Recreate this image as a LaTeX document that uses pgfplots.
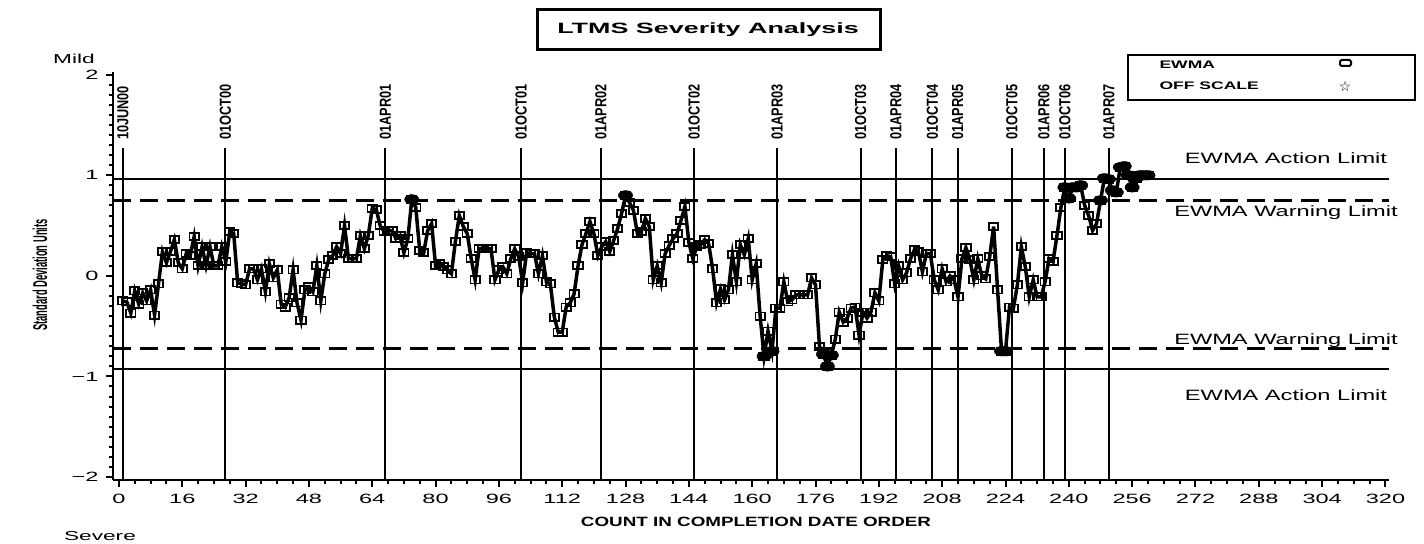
\documentclass[border=0pt]{standalone}
\usepackage{fontspec}
\usepackage{pgfplots}
\usepackage{pgfplotstable}
\pgfplotsset{compat=1.18}
\setmainfont{Liberation Sans}
\newfontfamily\sasfont[FakeStretch=1.75]{Liberation Sans}
\newfontfamily\limfont[FakeStretch=1.58]{Liberation Sans}
\newfontfamily\titfont[FakeStretch=1.8]{Liberation Sans}
\newfontfamily\xlabfont[FakeStretch=1.4]{Liberation Sans}
\newfontfamily\ylabfont[FakeStretch=0.47]{Liberation Sans}
\newfontfamily\datefont[FakeStretch=0.8]{Liberation Sans}
\newfontfamily\legfont[FakeStretch=1.6]{Liberation Sans}
\newfontfamily\symfont{DejaVu Sans}

\pgfplotstableread[row sep=\\]{
u v\\
1 -0.25\\ 2 -0.26\\ 3 -0.37\\ 4 -0.15\\ 5 -0.28\\ 6 -0.17\\ 7 -0.25\\ 8 -0.14\\ 9 -0.39\\ 10 -0.08\\
11 0.24\\ 12 0.13\\ 13 0.24\\ 14 0.36\\ 15 0.13\\ 16 0.07\\ 17 0.22\\ 18 0.20\\ 19 0.39\\ 20 0.10\\
21 0.29\\ 22 0.10\\ 23 0.29\\ 24 0.10\\ 25 0.10\\ 26 0.29\\ 27 0.14\\ 28 0.44\\ 29 0.42\\ 30 -0.07\\
31 -0.08\\ 32 -0.09\\ 33 0.07\\ 34 0.07\\ 35 -0.04\\ 36 0.07\\ 37 -0.16\\ 38 0.12\\ 39 -0.02\\ 40 0.06\\
41 -0.28\\ 42 -0.31\\ 43 -0.22\\ 44 0.06\\ 45 -0.27\\ 46 -0.44\\ 47 -0.14\\ 48 -0.11\\ 49 -0.16\\ 50 0.10\\
51 -0.25\\ 52 0.02\\ 53 0.16\\ 54 0.20\\ 55 0.29\\ 56 0.22\\ 57 0.50\\ 58 0.17\\ 59 0.17\\ 60 0.17\\
61 0.40\\ 62 0.27\\ 63 0.40\\ 64 0.67\\ 65 0.66\\ 66 0.50\\ 67 0.44\\ 68 0.45\\ 69 0.45\\ 70 0.37\\
71 0.40\\ 72 0.23\\ 73 0.37\\ 74 0.76\\ 75 0.68\\ 76 0.25\\ 77 0.23\\ 78 0.45\\ 79 0.52\\ 80 0.10\\
81 0.12\\ 82 0.09\\ 83 0.06\\ 84 0.02\\ 85 0.34\\ 86 0.60\\ 87 0.49\\ 88 0.42\\ 89 0.17\\ 90 -0.04\\
91 0.27\\ 92 0.27\\ 93 0.27\\ 94 0.27\\ 95 -0.04\\ 96 0.06\\ 97 0.09\\ 98 0.02\\ 99 0.17\\ 100 0.27\\
101 0.19\\ 102 -0.07\\ 103 0.23\\ 104 0.22\\ 105 0.22\\ 106 0.02\\ 107 0.20\\ 108 -0.06\\ 109 -0.08\\ 110 -0.41\\
111 -0.56\\ 112 -0.56\\ 113 -0.31\\ 114 -0.27\\ 115 -0.18\\ 116 0.10\\ 117 0.31\\ 118 0.42\\ 119 0.54\\ 120 0.42\\
121 0.20\\ 122 0.29\\ 123 0.34\\ 124 0.24\\ 125 0.35\\ 126 0.47\\ 127 0.62\\ 128 0.80\\ 129 0.73\\ 130 0.65\\
131 0.42\\ 132 0.44\\ 133 0.57\\ 134 0.49\\ 135 -0.04\\ 136 0.10\\ 137 -0.07\\ 138 0.22\\ 139 0.30\\ 140 0.37\\
141 0.42\\ 142 0.55\\ 143 0.69\\ 144 0.33\\ 145 0.17\\ 146 0.29\\ 147 0.31\\ 148 0.36\\ 149 0.32\\ 150 0.07\\
151 -0.27\\ 152 -0.13\\ 153 -0.24\\ 154 -0.14\\ 155 0.21\\ 156 -0.06\\ 157 0.31\\ 158 0.21\\ 159 0.37\\ 160 -0.04\\
161 0.12\\ 162 -0.40\\ 163 -0.80\\ 164 -0.55\\ 165 -0.75\\ 166 -0.32\\ 167 -0.32\\ 168 -0.06\\ 169 -0.26\\ 170 -0.24\\
171 -0.19\\ 172 -0.19\\ 173 -0.19\\ 174 -0.19\\ 175 -0.02\\ 176 -0.09\\ 177 -0.70\\ 178 -0.78\\ 179 -0.90\\ 180 -0.79\\
181 -0.63\\ 182 -0.36\\ 183 -0.46\\ 184 -0.42\\ 185 -0.32\\ 186 -0.31\\ 187 -0.59\\ 188 -0.36\\ 189 -0.42\\ 190 -0.36\\
191 -0.17\\ 192 -0.25\\ 193 0.16\\ 194 0.20\\ 195 0.19\\ 196 -0.08\\ 197 0.10\\ 198 -0.04\\ 199 0.03\\ 200 0.17\\
201 0.26\\ 202 0.24\\ 203 0.04\\ 204 0.22\\ 205 0.22\\ 206 -0.04\\ 207 -0.14\\ 208 0.07\\ 209 -0.06\\ 210 0.00\\
211 -0.04\\ 212 -0.21\\ 213 0.17\\ 214 0.28\\ 215 0.16\\ 216 -0.04\\ 217 0.17\\ 218 0.00\\ 219 -0.03\\ 220 0.19\\
221 0.49\\ 222 -0.14\\ 223 -0.75\\ 224 -0.75\\ 225 -0.31\\ 226 -0.32\\ 227 -0.09\\ 228 0.29\\ 229 0.09\\ 230 -0.21\\
231 -0.04\\ 232 -0.21\\ 233 -0.21\\ 234 -0.06\\ 235 0.17\\ 236 0.14\\ 237 0.40\\ 238 0.68\\ 239 0.88\\ 240 0.77\\
241 0.88\\ 242 0.88\\ 243 0.90\\ 244 0.70\\ 245 0.60\\ 246 0.45\\ 247 0.52\\ 248 0.75\\ 249 0.97\\ 250 0.96\\
251 0.85\\ 252 0.83\\ 253 1.08\\ 254 1.09\\ 255 1.00\\ 256 0.88\\ 257 0.97\\ 258 1.00\\ 259 1.00\\ 260 1.00\\
}\ewma

\begin{document}
\begin{tikzpicture}[x=1bp,y=1bp]
\useasboundingbox (0,0) rectangle (1424,544);
\begin{axis}[
  at={(113bp,64bp)}, anchor=south west, scale only axis,
  width=1276.4bp, height=408.3bp,
  xmin=-1.5, xmax=321, ymin=-2.03, ymax=2.03,
  axis x line=bottom, axis y line=left,
  axis line style={line width=2bp,-},
  xtick={0,16,...,320}, minor x tick num=3,
  ytick={-2,-1,0,1,2}, yticklabels={−2,−1,0,1,2}, minor y tick num=9,
  tick align=outside, major tick length=7bp, minor tick length=4bp,
  every tick/.style={line width=2bp, black},
  /pgf/number format/assume math mode=true,
  ticklabel style={font=\sasfont\fontsize{13.5}{13.5}\selectfont},
  xticklabel style={yshift=-4bp},
  yticklabel style={xshift=-4bp},
  clip=false,
]
% limit lines
\addplot[black, line width=2bp] coordinates {(-1.5,0.96) (321,0.96)};
\addplot[black, line width=2bp] coordinates {(-1.5,-0.93) (321,-0.93)};
\addplot[black, line width=3bp, dash pattern=on 18bp off 9bp] coordinates {(-1.5,0.75) (321,0.75)};
\addplot[black, line width=3bp, dash pattern=on 18bp off 9bp] coordinates {(-1.5,-0.72) (321,-0.72)};
% date reference lines
\foreach \d/\lab in {1/10JUN00, 26.9/01OCT00, 67.3/01APR01, 101.6/01OCT01, 121.8/01APR02, 145.3/01OCT02, 166.3/01APR03, 187.4/01OCT03, 196.3/01APR04, 205.5/01OCT04, 211.9/01APR05, 225.6/01OCT05, 233.7/01APR06, 239/01OCT06, 250.1/01APR07}{
  \edef\temp{\noexpand\draw[line width=2bp] (axis cs:\d,1.27) -- (axis cs:\d,-2.03);
    \noexpand\node[rotate=90, anchor=west, inner sep=0pt, font=\noexpand\datefont\noexpand\bfseries\noexpand\fontsize{16}{16}\noexpand\selectfont] at (axis cs:\d,1.35) {\lab};}
  \temp
}
% EWMA series
\addplot[black, line width=3.5bp, mark=square, mark size=3.6bp,
  mark options={solid, line width=1.8bp, fill=white, xscale=1.3}]
  table[x=u, y=v] {\ewma};
\addplot[black, only marks, mark=*, mark size=4.8bp, mark options={xscale=1.5},
  y filter/.expression={(y>0.745 || y<-0.715) ? y : nan}]
  table[x=u, y=v] {\ewma};
\end{axis}
% limit labels
\node[font=\limfont\fontsize{15}{15}\selectfont] at (1286,386) {EWMA Action Limit};
\node[font=\limfont\fontsize{15}{15}\selectfont] at (1286,331) {EWMA Warning Limit};
\node[font=\limfont\fontsize{15}{15}\selectfont] at (1286,203) {EWMA Warning Limit};
\node[font=\limfont\fontsize{15}{15}\selectfont] at (1286,149) {EWMA Action Limit};
% title
\draw[line width=3bp] (537,494) rectangle (880,534);
\node[font=\titfont\bfseries\fontsize{15}{15}\selectfont] at (708,514) {LTMS Severity Analysis};
% legend
\draw[line width=2bp] (1128,444) rectangle (1415,489);
\node[anchor=west, font=\legfont\bfseries\fontsize{11}{11}\selectfont] at (1156,479) {EWMA};
\node[anchor=west, font=\legfont\bfseries\fontsize{11}{11}\selectfont] at (1156,458) {OFF SCALE};
\draw[line width=2bp, rounded corners=1.5bp] (1340,478) rectangle (1351,484);
\node[font=\symfont\fontsize{14}{14}\selectfont] at (1345,458) {☆};
% side labels
\node[font=\sasfont\fontsize{13}{13}\selectfont] at (74,485) {Mild};
\node[font=\sasfont\fontsize{13}{13}\selectfont] at (100,8) {Severe};
\node[rotate=90, font=\ylabfont\bfseries\fontsize{20}{20}\selectfont] at (40,269) {Standard Deviation Units};
\node[font=\xlabfont\bfseries\fontsize{13.5}{13.5}\selectfont] at (756,22) {COUNT IN COMPLETION DATE ORDER};
\end{tikzpicture}
\end{document}
